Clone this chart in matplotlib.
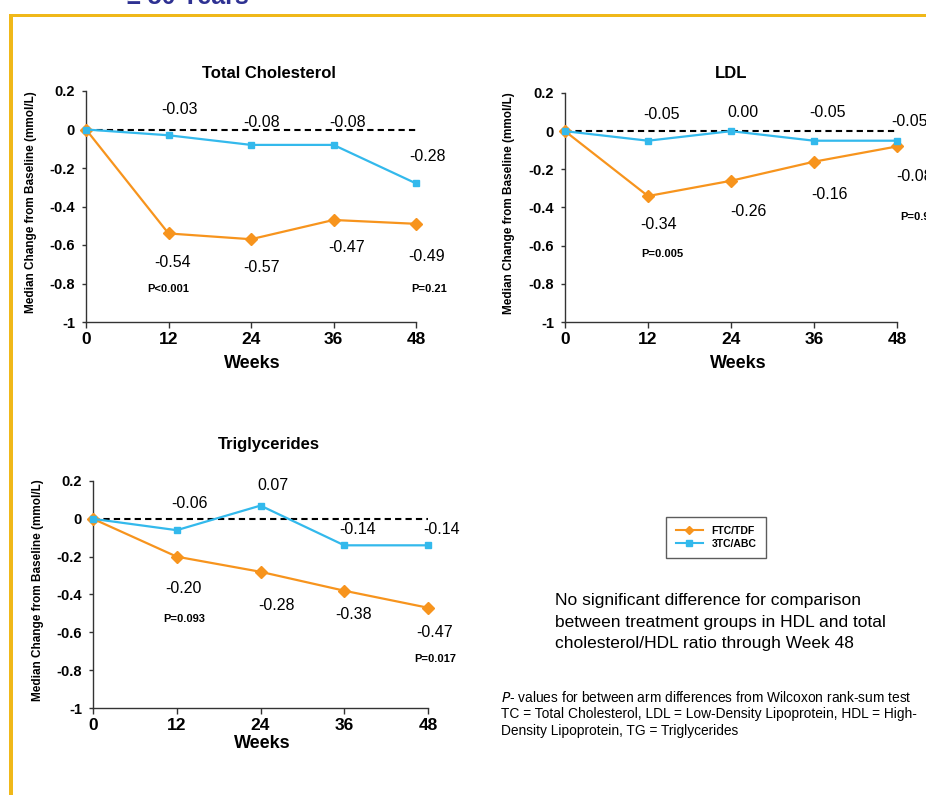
import matplotlib
matplotlib.use("Agg")
import matplotlib.pyplot as plt
from matplotlib.lines import Line2D
from matplotlib.patches import Rectangle

W, H = 926, 795

weeks = [0, 12, 24, 36, 48]

# median change from baseline (mmol/L)
tc_ftc = [0, -0.54, -0.57, -0.47, -0.49]
tc_3tc = [0, -0.03, -0.08, -0.08, -0.28]
ldl_ftc = [0, -0.34, -0.26, -0.16, -0.08]
ldl_3tc = [0, -0.05, 0.00, -0.05, -0.05]
tg_ftc = [0, -0.20, -0.28, -0.38, -0.47]
tg_3tc = [0, -0.06, 0.07, -0.14, -0.14]

p_weeks = [12, 48]
p_tc = ["P<0.001", "P=0.21"]
p_ldl = ["P=0.005", "P=0.92"]
p_tg = ["P=0.093", "P=0.017"]

yticks = [0.2, 0, -0.2, -0.4, -0.6, -0.8, -1]
ytick_labels = ["0.2", "0", "-0.2", "-0.4", "-0.6", "-0.8", "-1"]

ORANGE = "#F7941D"
BLUE = "#33B9EC"
GOLD = "#F0B819"
NAVY = "#2E3192"

plt.rcParams["font.family"] = ["Liberation Sans", "DejaVu Sans"]

fig = plt.figure(figsize=(W / 100, H / 100), dpi=100)


def fx(x):
    return x / W


def fy(y):
    return 1 - y / H


def panel(box, title, ftc, tc3, ptexts, p_y, p_dx, off3, offf, title_xy, weeks_xy, ylab_xy):
    l, t, r, b = box
    ax = fig.add_axes([fx(l), fy(b), fx(r - l), (b - t) / H])
    ax.set_xlim(0, 48)
    ax.set_ylim(-1, 0.2)
    ax.plot([0, 48], [0, 0], ls=(0, (3, 2)), color="black", lw=1.5, zorder=1)
    ax.plot(weeks, ftc, color=ORANGE, lw=1.6, marker="D", ms=6.5, clip_on=False, zorder=3)
    ax.plot(weeks, tc3, color=BLUE, lw=1.6, marker="s", ms=5, clip_on=False, zorder=4)
    for sp in ["top", "right"]:
        ax.spines[sp].set_visible(False)
    for sp in ["left", "bottom"]:
        ax.spines[sp].set_color("#333333")
        ax.spines[sp].set_linewidth(1.0)
    ax.set_xticks(weeks)
    ax.set_xticklabels([str(w) for w in weeks], fontsize=12.5, fontweight="bold")
    ax.set_yticks(yticks)
    ax.set_yticklabels(ytick_labels, fontsize=10.5, fontweight="bold")
    ax.tick_params(axis="x", length=4, width=1, color="#333333", pad=3)
    ax.tick_params(axis="y", length=3, width=1, color="#333333", pad=5)

    for i, w in enumerate(weeks[1:]):
        ax.annotate(f"{tc3[i + 1]:.2f}", (w, tc3[i + 1]), xytext=off3[i],
                    textcoords="offset pixels", ha="center", va="center",
                    fontsize=11.5, annotation_clip=False)
        ax.annotate(f"{ftc[i + 1]:.2f}", (w, ftc[i + 1]), xytext=offf[i],
                    textcoords="offset pixels", ha="center", va="center",
                    fontsize=11.5, annotation_clip=False)
    for w, txt, yy, dx in zip(p_weeks, ptexts, p_y, p_dx):
        ax.annotate(txt, (w, yy), xytext=(dx, 0), textcoords="offset pixels",
                    ha="center", va="center", fontsize=8, fontweight="bold",
                    annotation_clip=False)

    fig.text(fx(title_xy[0]), fy(title_xy[1]), title, ha="center", va="center",
             fontsize=12, fontweight="bold")
    fig.text(fx(weeks_xy[0]), fy(weeks_xy[1]), "Weeks", ha="center", va="center",
             fontsize=13, fontweight="bold")
    fig.text(fx(ylab_xy[0]), fy(ylab_xy[1]), "Median Change from Baseline (mmol/L)",
             rotation=90, ha="center", va="center", fontsize=8.5, fontweight="bold")
    return ax


ax1 = panel((86, 91, 416, 322), "Total Cholesterol", tc_ftc, tc_3tc, p_tc,
            [-0.826, -0.826], [0, 13],
            [(11, 26), (11, 22), (14, 22), (12, 27)],
            [(4, -29), (11, -28), (13, -28), (11, -33)],
            (269, 73), (252, 364), (31, 202))

panel((565, 93, 897, 322), "LDL", ldl_ftc, ldl_3tc, p_ldl,
      [-0.644, -0.45], [14, 21],
      [(14, 26), (12, 19), (14, 28), (13, 19)],
      [(11, -28), (17, -31), (15, -33), (18, -30)],
      (731, 73), (738, 364), (509, 203))

panel((93, 481, 428, 708), "Triglycerides", tg_ftc, tg_3tc, p_tg,
      [-0.53, -0.741], [7, 7],
      [(13, 27), (12, 20), (13, 16), (14, 16)],
      [(7, -32), (16, -34), (9, -24), (7, -25)],
      (269, 445), (262, 743), (38, 590))

# legend
handles = [Line2D([], [], color=ORANGE, lw=1.5, marker="D", ms=4.5),
           Line2D([], [], color=BLUE, lw=1.5, marker="s", ms=4)]
leg = fig.legend(handles, ["FTC/TDF", "3TC/ABC"], loc="center",
                 bbox_to_anchor=(fx(716), fy(537.5)), prop={"size": 7.5, "weight": "bold"},
                 frameon=True, fancybox=False, edgecolor="#333333", handlelength=2.6,
                 borderpad=0.9, labelspacing=0.3, handletextpad=0.8, borderaxespad=0)
leg.get_frame().set_linewidth(1.0)

fig.text(fx(555), fy(622), "No significant difference for comparison\n"
         "between treatment groups in HDL and total\n"
         "cholesterol/HDL ratio through Week 48",
         ha="left", va="center", fontsize=12.5, linespacing=1.58)

fig.text(fx(501), fy(697), r"$\it{P}$- values for between arm differences from Wilcoxon rank-sum test",
         ha="left", va="center", fontsize=9.9)
fig.text(fx(501), fy(722.5), "TC = Total Cholesterol, LDL = Low-Density Lipoprotein, HDL = High-\n"
         "Density Lipoprotein, TG = Triglycerides",
         ha="left", va="center", fontsize=9.9, linespacing=1.28)

# frame lines and the clipped heading
fig.add_artist(Rectangle((fx(9), fy(17)), 1, 3 / H, color=GOLD, transform=fig.transFigure, lw=0))
fig.add_artist(Rectangle((fx(9), 0), 4 / W, fy(14), color=GOLD, transform=fig.transFigure, lw=0))
fig.text(fx(127), fy(4), "≥ 50 Years", ha="left", va="baseline", fontsize=18,
         fontweight="bold", color=NAVY)

fig.savefig("out.png", dpi=100)
